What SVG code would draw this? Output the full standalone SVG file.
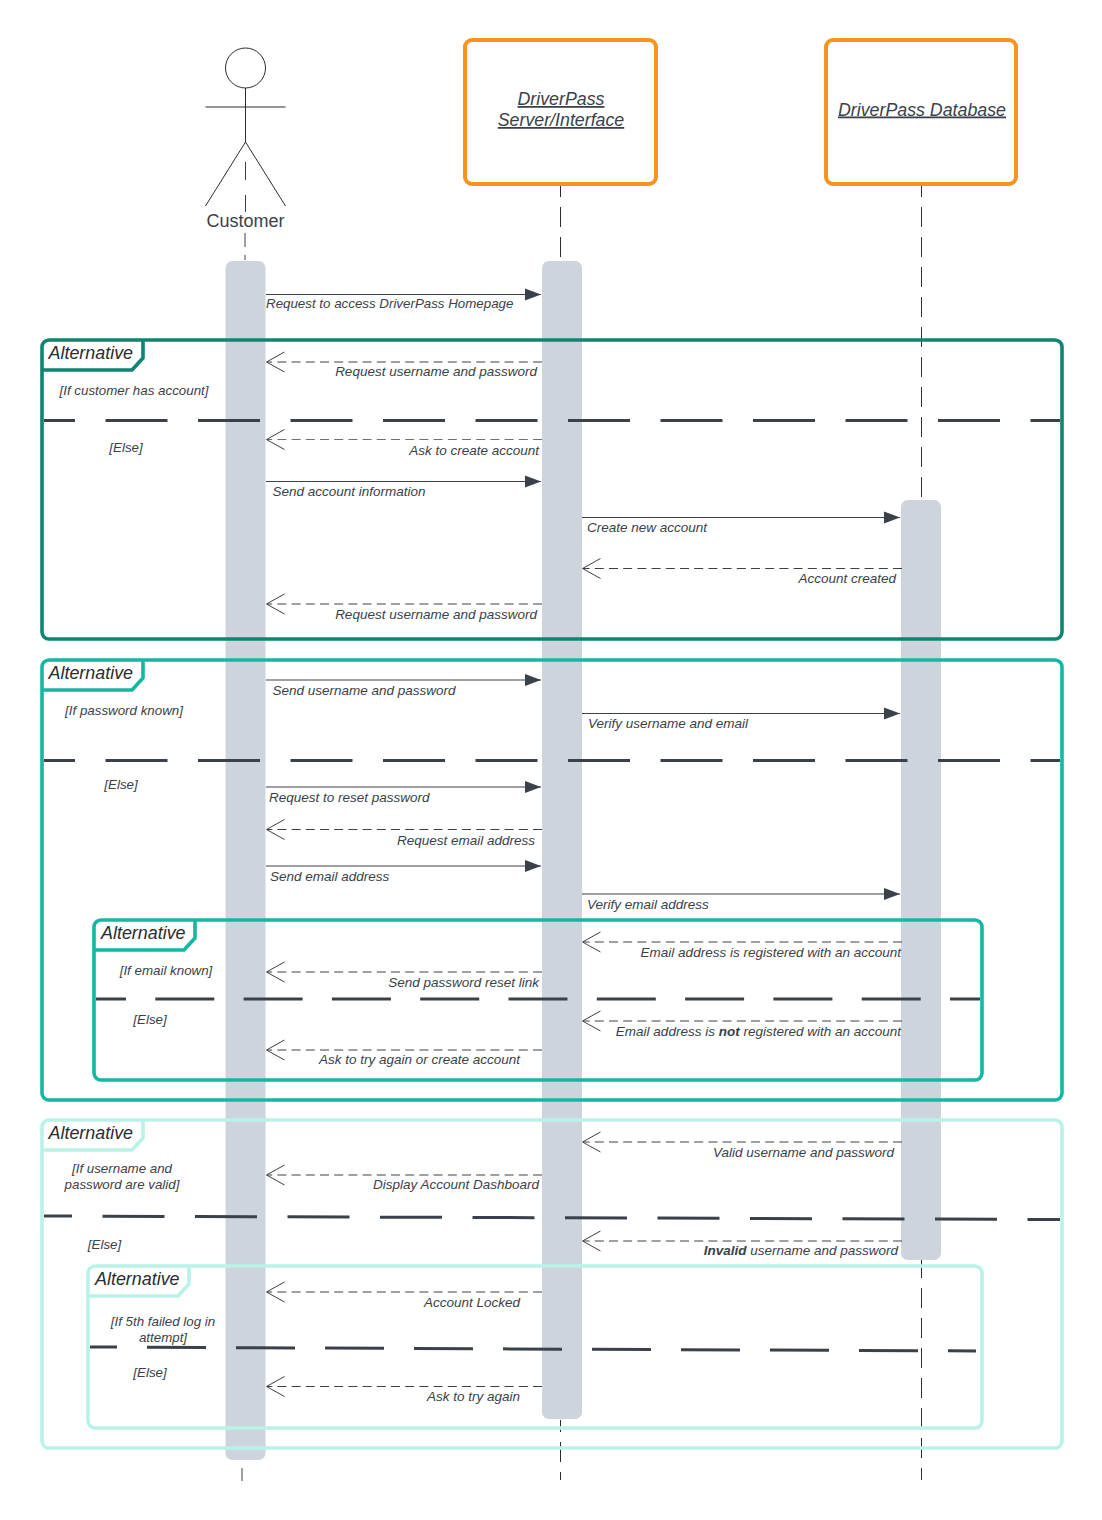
<svg xmlns="http://www.w3.org/2000/svg" width="1102" height="1520" viewBox="0 0 1102 1520">
<style>
text{font-family:"Liberation Sans",Arial,sans-serif;fill:#3a414a}
.m{font-size:13.5px;font-style:italic}
.n{font-size:13.33px}
.g{font-size:13.33px;font-style:italic;text-anchor:middle}
.e{text-anchor:end}
.t{font-size:17.9px;font-style:italic;fill:#282c33}
.h{font-size:17.8px;font-style:italic;text-decoration:underline;text-anchor:middle}
.life{fill:none;stroke:#282c33;stroke-width:1;stroke-dasharray:20 10}
.bar{fill:#ced4db}
.f{fill:none;stroke-width:3.6;stroke-linejoin:round}
.div{fill:none;stroke:#3a414a;stroke-width:3;stroke-dasharray:62 30.500;stroke-dashoffset:31}
.d4{stroke-dashoffset:34}
.div2{fill:none;stroke:#3a414a;stroke-width:3;stroke-dasharray:59 30;stroke-dashoffset:32}
.d3{stroke-dasharray:59 29.300;stroke-dashoffset:29}
.s{fill:none;stroke:#3a414a;stroke-width:1;marker-end:url(#solid)}
.r{fill:none;stroke:#3a414a;stroke-width:1;stroke-dasharray:9 5.200}
.o{fill:none;stroke:#3a414a;stroke-width:1}
.box{fill:#fff;stroke:#f7931e;stroke-width:4}
.fig{fill:none;stroke:#282c33;stroke-width:1}
</style>
<defs>
<marker id="solid" markerUnits="userSpaceOnUse" markerWidth="18" markerHeight="14" refX="16" refY="6" orient="auto" overflow="visible"><path d="M0 0L16 6L0 12Z" fill="#3a414a"/></marker>
<path id="open" d="M18 -10L0 0L18 10" fill="none" stroke="#3a414a" stroke-width="1"/>
</defs>
<rect width="1102" height="1520" fill="#fff"/>
<g id="lifelines">
<path class="o" d="M245.500 162V180M245.500 195V212M245 233V247M245 255V260"/>
<path class="life" stroke-dashoffset="9" d="M560.500 186V262"/>
<path class="life" stroke-dashoffset="9" d="M921.500 186V500"/>
<path class="life" stroke-dashoffset="8" d="M560.500 1420V1480"/>
<path class="life" stroke-dashoffset="2" d="M921.500 1260V1480"/>
<path class="o" d="M242 1468V1481"/>
</g>
<g id="activations">
<rect id="bar-customer" class="bar" x="225.500" y="261" width="40" height="1199" rx="7"/>
<rect id="bar-server" class="bar" x="542" y="261" width="40" height="1158" rx="7"/>
<rect id="bar-database" class="bar" x="901" y="500" width="40" height="760" rx="7"/>
</g>
<g id="customer">
<circle class="fig" cx="245.500" cy="68" r="20"/>
<path class="fig" d="M245.500 88V142M205.500 107H285.500M245.500 142L205.500 206M245.500 142L285.500 206"/>
<text x="245.500" y="227" font-size="18" text-anchor="middle">Customer</text>
</g>
<g id="server">
<rect class="box" x="465" y="40" width="191" height="144" rx="7"/>
<text class="h" x="561" y="105">DriverPass</text>
<text class="h" x="561" y="126">Server/Interface</text>
</g>
<g id="database">
<rect class="box" x="826" y="40" width="190" height="144" rx="7"/>
<text class="h" x="922" y="115.500">DriverPass Database</text>
</g>
<g id="frame-1">
<rect class="f" stroke="#0f8471" x="42" y="340" width="1020" height="299" rx="7"/>
<path class="f" stroke="#0f8471" d="M143 340V358L132 370H42"/>
<text class="t" x="48.500" y="358.500">Alternative</text>
<path class="div" d="M44 420.500H1060"/>
<text class="g" x="134" y="395">[If customer has account]</text>
<text class="g" x="126" y="452">[Else]</text>
</g>
<g id="frame-2">
<rect class="f" stroke="#14b8a2" x="42" y="660" width="1020" height="440" rx="7"/>
<path class="f" stroke="#14b8a2" d="M143 660V678L132 690H42"/>
<text class="t" x="48.500" y="678.500">Alternative</text>
<path class="div" d="M44 760.500H1060"/>
<text class="g" x="124" y="715">[If password known]</text>
<text class="g" x="121" y="789">[Else]</text>
</g>
<g id="frame-3">
<rect class="f" stroke="#14b8a2" x="94" y="920" width="888" height="160" rx="7"/>
<path class="f" stroke="#14b8a2" d="M195 920V938L184 950H94"/>
<text class="t" x="101" y="938.500">Alternative</text>
<path class="div2 d3" d="M96 999H980"/>
<text class="g" x="166" y="975">[If email known]</text>
<text class="g" x="150" y="1024">[Else]</text>
</g>
<g id="frame-4">
<rect class="f" stroke="#b9f2e8" x="42" y="1120" width="1020" height="328" rx="7"/>
<path class="f" stroke="#b9f2e8" d="M143 1120V1138L132 1150H42"/>
<text class="t" x="48.500" y="1138.500">Alternative</text>
<path class="div d4" d="M44 1216L1060 1219.500"/>
<text class="g" x="122" y="1173">[If username and</text>
<text class="g" x="122" y="1189">password are valid]</text>
<text class="g" x="104.500" y="1249">[Else]</text>
</g>
<g id="frame-5">
<rect class="f" stroke="#b9f2e8" x="88" y="1266" width="894" height="162" rx="7"/>
<path class="f" stroke="#b9f2e8" d="M189 1266V1284L178 1296H88"/>
<text class="t" x="95" y="1284.500">Alternative</text>
<path class="div2" d="M90 1347L976 1351"/>
<text class="g" x="163" y="1326">[If 5th failed log in</text>
<text class="g" x="163" y="1342">attempt]</text>
<text class="g" x="150" y="1377">[Else]</text>
</g>
<g id="connectors">
<path class="s" d="M266 294.500H541"/>
<path class="r" d="M542 362H267"/><use href="#open" x="266.500" y="362"/>
<path class="r" opacity=".75" d="M542 439.500H267"/><use href="#open" x="266.500" y="439.500"/>
<path class="s" d="M266 481.500H541"/>
<path class="s" d="M582 517.500H900"/>
<path class="r" d="M902 568.500H583"/><use href="#open" x="582.500" y="568.500"/>
<path class="r" d="M542 604H267"/><use href="#open" x="266.500" y="604"/>
<path class="s" d="M266 680H541"/>
<path class="s" d="M582 713.500H900"/>
<path class="s" d="M266 787H541"/>
<path class="r" d="M542 829.500H267"/><use href="#open" x="266.500" y="829.500"/>
<path class="s" d="M266 866H541"/>
<path class="s" d="M582 894H900"/>
<path class="r" d="M902 942H583"/><use href="#open" x="582.500" y="942"/>
<path class="r" d="M542 972H267"/><use href="#open" x="266.500" y="972"/>
<path class="r" d="M902 1021H583"/><use href="#open" x="582.500" y="1021"/>
<path class="r" d="M542 1050H267"/><use href="#open" x="266.500" y="1050"/>
<path class="r" d="M902 1142H583"/><use href="#open" x="582.500" y="1142"/>
<path class="r" d="M542 1175H267"/><use href="#open" x="266.500" y="1175"/>
<path class="r" d="M902 1241H583"/><use href="#open" x="582.500" y="1241"/>
<path class="r" d="M542 1292H267"/><use href="#open" x="266.500" y="1292"/>
<path class="r" d="M542 1386.500H267"/><use href="#open" x="266.500" y="1386.500"/>
</g>
<g id="connector-labels">
<text class="m n" x="266" y="308">Request to access DriverPass Homepage</text>
<text class="m e" x="537" y="375.500">Request username and password</text>
<text class="m e" x="539" y="454.500">Ask to create account</text>
<text class="m" x="272.500" y="496">Send account information</text>
<text class="m" x="587" y="532">Create new account</text>
<text class="m e" x="896" y="583">Account created</text>
<text class="m e" x="537" y="618.500">Request username and password</text>
<text class="m" x="272.500" y="695">Send username and password</text>
<text class="m" x="588" y="728">Verify username and email</text>
<text class="m" x="269" y="801.500">Request to reset password</text>
<text class="m e" x="535" y="845">Request email address</text>
<text class="m" x="270" y="880.500">Send email address</text>
<text class="m" x="587" y="908.500">Verify email address</text>
<text class="m e" x="901" y="956.500">Email address is registered with an account</text>
<text class="m e" x="539" y="987">Send password reset link</text>
<text class="m e" x="901" y="1036">Email address is <tspan font-weight="bold">not</tspan> registered with an account</text>
<text class="m e" x="520" y="1063.500">Ask to try again or create account</text>
<text class="m e" x="894" y="1157">Valid username and password</text>
<text class="m e" x="539" y="1189">Display Account Dashboard</text>
<text class="m e" x="898" y="1255"><tspan font-weight="bold">Invalid</tspan> username and password</text>
<text class="m e" x="520" y="1307">Account Locked</text>
<text class="m e" x="520" y="1400.500">Ask to try again</text>
</g>
</svg>
